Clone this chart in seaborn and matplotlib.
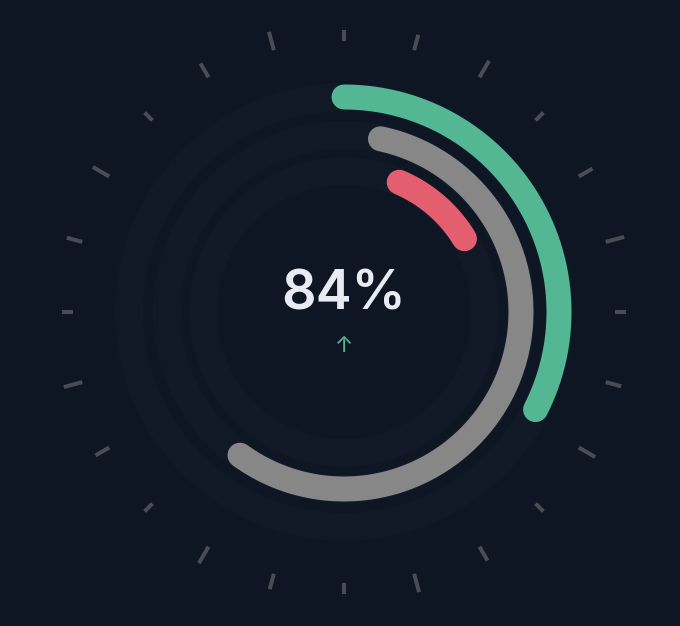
import numpy as np
import matplotlib
matplotlib.use("Agg")
import matplotlib.pyplot as plt
import seaborn as sns

# ── Data ──────────────────────────────────────────────────────────────────────
ring_labels    = ["Target", "Actual", "Risk"]
ring_start_pct = [0.0, 3.3, 6.4]      # share of full circle, clockwise from top
ring_end_pct   = [32.5, 60.0, 16.3]
ring_colors    = ["#54b794", "#878787", "#e35f70"]
headline       = "84%"
trend_symbol   = "↑"
tick_count     = 24

# ── Layout (pixels) ───────────────────────────────────────────────────────────
W, H, DPI   = 680, 626, 100
CX, CY      = 344, 314          # gauge centre, measured from bottom-left
R_AX        = 300               # axes radius in px == data radius
RING_RADIUS = [215, 177, 141]
STROKE_PX   = 25
TRACK_PX    = 28
TICK_R0     = 271
TICK_LEN    = [11, 16, 19]      # short / medium / long, repeating
BG          = "#0f1623"
TRACK       = "#111926"
TICK_COLOR  = "#474c55"

def pt(px):
    return px * 72 / DPI

sns.set_theme(style="dark", rc={"figure.facecolor": BG, "axes.facecolor": BG})
plt.rcParams["font.family"] = ["Inter", "DejaVu Sans"]

fig = plt.figure(figsize=(W / DPI, H / DPI), dpi=DPI)
ax = fig.add_axes(
    [(CX - R_AX) / W, (CY - R_AX) / H, 2 * R_AX / W, 2 * R_AX / H],
    projection="polar",
)
ax.set_theta_zero_location("N")
ax.set_theta_direction(-1)
ax.set_ylim(0, R_AX)
ax.set_axis_off()

# faint tracks behind each ring
full = np.linspace(0, 2 * np.pi, 400)
for r in RING_RADIUS:
    ax.plot(full, np.full_like(full, r), color=TRACK, lw=pt(TRACK_PX),
            solid_capstyle="butt", zorder=1)

# value arcs
for label, s, e, c, r in zip(ring_labels, ring_start_pct, ring_end_pct,
                             ring_colors, RING_RADIUS):
    th = np.linspace(s / 100 * 2 * np.pi, e / 100 * 2 * np.pi, 300)
    ax.plot(th, np.full_like(th, r), color=c, lw=pt(STROKE_PX),
            solid_capstyle="round", zorder=3, label=label)

# dial ticks
for i in range(tick_count):
    th = i * 2 * np.pi / tick_count
    ln = TICK_LEN[i % 3]
    ax.plot([th, th], [TICK_R0, TICK_R0 + ln], color=TICK_COLOR,
            lw=pt(4), solid_capstyle="butt", zorder=2, clip_on=False)

# centre labels
ax.annotate(headline, xy=(0, 0), xytext=(0, pt(17)), textcoords="offset points",
            ha="center", va="center", fontsize=pt(54), fontweight="semibold",
            color="#e8ebf2", zorder=5)
ax.annotate(trend_symbol, xy=(0, 0), xytext=(0, pt(-34)), textcoords="offset points",
            ha="center", va="center", fontsize=pt(22), color="#54b794", zorder=5)

fig.savefig("out.png", dpi=DPI, facecolor=BG)
